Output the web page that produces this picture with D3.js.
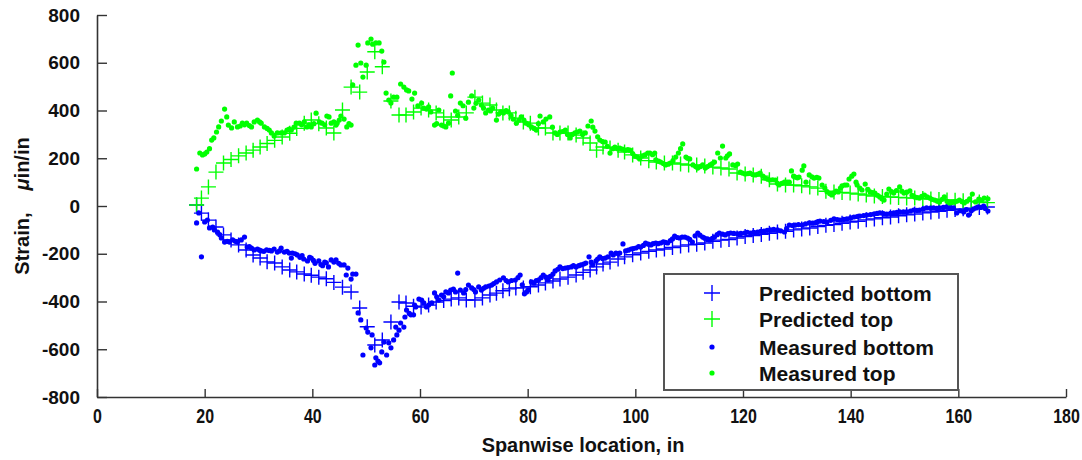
<!DOCTYPE html>
<html><head><meta charset="utf-8">
<script src="https://cdn.jsdelivr.net/npm/d3@7"></script>
<style>
html,body{margin:0;padding:0;background:#fff;}
svg{display:block;}
</style></head>
<body>
<svg id="chart" width="1082" height="460"></svg>
<script>
const xTicks = [0, 20, 40, 60, 80, 100, 120, 140, 160, 180];
const yTicks = [-800, -600, -400, -200, 0, 200, 400, 600, 800];
const seriesNames = ["Predicted bottom", "Predicted top", "Measured bottom", "Measured top"];

const predX = [
 18.5, 19.4, 20.7, 22.1, 23.5, 24.9, 26.3, 27.7, 29.0, 30.3,
 31.6, 33.0, 34.4, 35.8, 37.1, 38.5, 39.8, 41.2, 42.6, 44.0,
 45.6, 47.2, 48.8, 50.2, 51.6, 53.0, 54.6, 56.1, 57.4, 58.8,
 60.2, 61.6, 63.0, 64.4, 65.8, 67.2, 68.6, 70.2, 71.6, 73.0,
 74.2, 75.4, 76.6, 77.8, 79.2, 80.5, 82.0, 83.3, 84.7, 86.0,
 87.5, 89.0, 90.3, 91.6, 92.8, 94.0, 95.3, 96.8, 98.0, 99.5,
 101.0, 102.5, 103.9, 105.4, 106.9, 108.4, 109.9, 111.4, 112.9, 114.4,
 115.9, 117.4, 118.9, 120.4, 121.9, 123.4, 124.9, 126.4, 127.9, 129.4,
 130.9, 132.4, 133.9, 135.4, 136.9, 138.4, 139.9, 141.4, 142.9, 144.4,
 145.9, 147.4, 148.9, 150.4, 151.9, 153.4, 154.9, 156.4, 157.9, 159.4,
 160.9, 162.4, 163.9, 165.4];
const predTop = [
 4, 33, 80, 142, 180, 195, 210, 222, 234, 247,
 262, 275, 289, 305, 325, 347, 360, 345, 327, 306,
 402, 498, 477, 561, 646, 583, 440, 381, 381, 394,
 410, 402, 390, 373, 360, 373, 390, 456, 431, 423,
 402, 390, 390, 368, 352, 347, 327, 327, 306, 306,
 306, 297, 285, 264, 234, 247, 243, 234, 226, 214,
 201, 190, 184, 180, 180, 176, 172, 172, 168, 163,
 159, 155, 138, 134, 130, 125, 110, 92, 88, 88,
 85, 80, 75, 62, 59, 57, 54, 50, 46, 42,
 40, 38, 36, 34, 33, 31, 29, 27, 25, 24,
 22, 20, 17, 14];
const predBottom = [
 4, -30, -59, -88, -121, -142, -163, -184, -205, -218,
 -234, -239, -255, -268, -276, -285, -290, -298, -305, -320,
 -340, -360, -427, -506, -582, -561, -486, -402, -406, -420,
 -423, -415, -402, -396, -390, -385, -394, -394, -385, -373,
 -365, -355, -347, -343, -343, -338, -331, -322, -314, -306,
 -298, -289, -278, -268, -255, -243, -235, -222, -213, -204,
 -197, -190, -184, -180, -174, -168, -163, -160, -155, -148,
 -143, -140, -134, -128, -124, -119, -114, -109, -106, -100,
 -96, -92, -86, -81, -78, -72, -67, -64, -58, -54,
 -49, -46, -41, -37, -34, -29, -25, -22, -18, -15,
 -12, -9, -6, -4];

const measTopX = [
 18.5,19.1,19.6,20.0,20.4,20.9,21.3,21.7,22.2,22.6,
 23.1,23.7,24.1,24.4,25.0,25.5,26.1,26.6,27.0,27.4,
 27.8,28.3,28.7,29.2,29.8,30.2,30.5,31.1,31.6,32.0,
 32.4,32.9,33.5,34.2,34.8,35.3,35.7,36.1,36.6,37.0,
 37.6,38.0,38.5,39.0,39.4,39.8,40.3,40.7,41.3,41.8,
 42.3,42.7,43.1,43.5,44.0,44.4,44.6,45.0,45.3,45.9,
 46.4,46.8,47.2,47.5,48.1,48.5,49.0,49.4,50.0,50.3,
 50.9,51.2,51.8,52.4,52.9,53.3,53.7,54.2,54.6,55.1,
 55.7,56.4,57.0,57.5,57.9,58.5,59.0,59.6,60.3,60.7,
 61.2,61.6,62.0,62.7,63.1,63.5,64.0,64.4,64.8,65.3,
 65.7,66.0,66.6,67.0,67.5,68.0,68.5,69.0,69.6,70.0,
 70.4,70.9,71.4,71.8,72.2,72.7,73.1,73.5,74.2,74.6,
 75.0,75.5,76.0,76.4,76.9,77.3,77.9,78.4,78.8,79.3,
 79.7,80.2,80.7,81.2,81.6,82.0,82.3,82.9,83.4,84.1,
 84.6,85.1,85.5,86.0,86.5,87.0,87.4,87.9,88.3,88.8,
 89.2,89.7,90.2,90.7,91.2,91.8,92.1,92.5,93.0,93.4,
 93.9,94.4,94.8,95.3,95.8,96.2,96.7,97.1,97.6,98.1,
 98.6,99.0,99.5,99.9,100.4,100.8,101.3,101.8,102.3,102.7,
 103.2,103.6,103.8,104.3,104.7,105.2,105.6,106.1,106.5,107.0,
 107.5,108.0,108.4,108.8,109.4,109.7,110.1,110.7,111.2,111.6,
 112.1,112.5,113.0,113.4,113.9,114.3,114.7,115.3,115.8,116.2,
 116.8,117.1,117.5,118.1,118.6,119.0,119.5,119.9,120.4,120.9,
 121.3,121.8,122.3,122.8,123.2,123.7,124.1,124.6,125.0,125.5,
 126.0,126.4,126.7,127.2,127.7,128.2,128.6,129.0,129.4,129.7,
 130.1,130.4,131.0,131.3,131.7,132.3,132.8,133.2,133.7,134.1,
 134.7,135.2,135.6,136.1,136.5,136.9,137.3,137.7,138.1,138.4,
 138.9,139.3,139.7,140.2,140.6,141.0,141.2,141.7,142.1,142.7,
 143.2,143.6,144.1,144.5,145.0,145.4,145.8,146.2,146.7,147.1,
 147.6,148.0,148.5,149.1,149.5,149.9,150.4,151.0,151.4,151.9,
 152.4,152.8,153.2,153.7,154.2,154.7,155.1,155.6,156.1,156.5,
 157.0,157.4,157.9,158.4,158.8,159.3,159.7,160.2,160.7,161.1,
 161.6,162.1,162.6,163.2,163.8,164.3,164.8,165.5];
const measTop = [
 155,222,214,218,226,240,276,285,310,331,
 356,406,373,339,327,352,331,335,347,340,
 347,337,331,352,360,352,347,331,325,318,
 306,293,306,306,306,318,322,318,330,347,
 347,340,352,331,340,331,345,389,352,347,
 340,377,373,347,352,339,347,360,377,364,
 331,345,339,507,590,674,599,540,590,683,
 699,678,683,683,649,603,473,444,431,456,
 456,511,498,486,482,448,473,419,431,410,
 406,415,394,339,345,402,339,335,331,347,
 461,557,398,380,431,420,368,435,461,410,
 430,444,423,410,390,402,398,410,360,385,
 394,390,400,394,380,364,347,360,373,360,
 347,340,331,325,318,345,377,352,364,373,
 330,306,300,310,312,318,300,285,300,306,
 310,314,300,306,335,356,330,314,290,276,
 270,268,250,222,240,247,240,243,238,234,
 236,234,220,209,205,197,210,214,222,222,
 215,222,193,188,184,178,172,175,180,190,
 205,222,240,260,205,200,197,172,165,159,
 165,172,159,165,172,178,184,222,201,251,
 201,210,218,172,170,176,142,138,134,136,
 138,132,130,134,138,125,117,112,109,110,
 109,95,88,95,100,100,100,147,125,121,
 118,121,150,168,100,130,122,117,120,117,
 88,75,60,52,46,55,62,59,75,84,
 88,88,113,125,134,100,88,75,67,92,
 70,59,56,54,45,38,30,25,50,71,
 60,54,65,80,62,54,58,63,45,38,
 35,33,40,46,38,33,28,25,20,17,
 28,38,20,13,15,17,20,25,18,13,
 20,30,50,17,29,25,33,30];

const measBottomX = [
 18.5,18.9,19.4,20.0,20.5,20.9,21.5,21.8,22.4,22.8,
 23.1,23.7,24.2,24.6,25.2,25.7,26.1,26.8,27.4,27.9,
 28.3,28.7,29.2,29.8,30.2,30.5,31.0,31.5,32.0,32.4,
 32.9,33.5,33.9,34.2,34.8,35.3,35.7,36.1,36.3,36.8,
 37.2,37.7,38.1,38.4,39.1,39.5,39.8,40.2,40.5,41.2,
 41.6,41.9,42.3,42.6,43.0,43.5,44.0,44.4,44.9,45.3,
 45.9,46.3,46.6,47.2,47.5,48.1,48.5,49.0,49.4,50.0,
 50.3,50.9,51.1,51.6,51.8,52.2,52.5,52.9,53.3,53.8,
 54.2,54.6,55.1,55.5,55.7,56.1,56.4,57.0,57.2,57.5,
 58.0,58.3,58.8,59.0,59.2,59.8,60.3,60.7,61.2,61.6,
 62.2,62.7,63.1,63.5,64.0,64.4,64.8,65.3,65.7,66.2,
 66.6,67.0,67.5,68.1,68.5,69.0,69.6,70.0,70.3,70.9,
 71.4,71.8,72.2,72.8,73.3,73.7,74.2,74.8,75.5,76.0,
 76.4,77.0,77.7,78.2,78.6,79.0,79.4,79.8,80.1,80.7,
 81.2,81.6,82.0,82.5,82.9,83.4,83.8,84.2,84.7,85.1,
 85.6,86.0,86.5,87.0,87.5,88.1,88.5,89.0,89.5,89.9,
 90.4,90.8,91.4,91.8,92.1,92.7,93.0,93.4,93.9,94.4,
 94.9,95.5,95.9,96.4,96.8,97.1,97.7,98.2,98.7,99.2,
 99.6,100.1,100.6,101.0,101.5,101.9,102.4,102.9,103.3,103.8,
 104.2,104.7,105.2,105.6,106.0,106.5,106.9,107.3,107.8,108.2,
 108.7,109.2,109.7,110.1,110.6,111.1,111.6,112.0,112.5,112.9,
 113.4,113.8,114.3,114.7,115.2,115.6,116.2,116.7,117.2,117.7,
 118.3,119.0,119.6,120.3,120.8,121.4,122.0,122.7,123.3,123.9,
 124.5,125.1,125.7,126.4,127.0,127.7,128.1,128.6,129.2,129.7,
 130.3,131.0,131.6,132.3,132.9,133.4,133.8,134.3,135.0,135.6,
 136.3,136.9,137.5,138.0,138.7,139.3,140.0,140.6,141.2,141.7,
 142.4,143.0,143.7,144.3,144.9,145.4,146.1,146.7,147.4,148.0,
 148.6,149.1,149.8,150.4,151.1,151.7,152.3,152.8,153.5,154.1,
 154.8,155.4,156.0,156.5,157.2,157.8,158.5,159.1,159.7,160.3,
 161.0,161.5,161.9,162.4,162.8,163.3,163.7,164.2,164.7,165.0,
 165.5];
const measBottom = [
 -71,-29,-213,-67,-59,-92,-88,-100,-109,-120,
 -134,-151,-148,-151,-142,-148,-151,-142,-130,-172,
 -170,-176,-184,-180,-185,-188,-190,-184,-186,-188,
 -180,-193,-188,-176,-193,-190,-197,-218,-197,-200,
 -205,-215,-208,-222,-230,-215,-218,-228,-240,-230,
 -245,-250,-235,-238,-255,-226,-235,-226,-240,-247,
 -247,-289,-260,-306,-285,-285,-448,-477,-624,-511,
 -528,-594,-540,-666,-636,-650,-657,-611,-570,-624,
 -573,-594,-561,-507,-540,-520,-490,-507,-465,-436,
 -450,-456,-456,-415,-423,-390,-394,-406,-423,-415,
 -406,-364,-380,-394,-373,-380,-360,-364,-352,-348,
 -360,-281,-352,-364,-350,-331,-343,-350,-360,-339,
 -352,-345,-339,-335,-331,-325,-318,-310,-301,-312,
 -318,-312,-310,-300,-289,-330,-368,-360,-352,-318,
 -322,-312,-310,-300,-289,-298,-310,-295,-285,-272,
 -265,-255,-262,-260,-258,-255,-250,-255,-250,-247,
 -243,-239,-213,-235,-247,-230,-222,-213,-220,-218,
 -213,-197,-205,-197,-200,-197,-159,-188,-185,-180,
 -178,-176,-170,-172,-165,-155,-160,-163,-158,-155,
 -158,-155,-150,-152,-155,-145,-138,-126,-132,-134,
 -130,-130,-134,-140,-151,-125,-113,-122,-130,-135,
 -138,-142,-135,-130,-120,-113,-118,-121,-116,-113,
 -115,-117,-115,-113,-110,-113,-110,-109,-106,-105,
 -102,-100,-98,-100,-104,-109,-95,-80,-82,-80,
 -78,-80,-75,-71,-72,-71,-66,-63,-65,-67,
 -60,-54,-57,-59,-56,-54,-50,-46,-44,-42,
 -40,-38,-36,-34,-31,-29,-32,-34,-31,-29,
 -27,-25,-25,-25,-21,-17,-18,-17,-12,-8,
 -9,-8,-10,-8,-6,-4,-6,-8,-29,-20,
 -25,-15,-38,-20,-13,-8,-4,-6,0,-10,
 -21];

const BLUE = "#0000ff", GREEN = "#00ff00";
const svg = d3.select("#chart");
svg.append("rect").attr("width", 1082).attr("height", 460).attr("fill", "#fff");

const x = d3.scaleLinear().domain([0, 180]).range([97, 1066]);
const y = d3.scaleLinear().domain([-800, 800]).range([397, 15]);

const pts = (xs, vs) => d3.range(Math.min(xs.length, vs.length)).map(i => [xs[i], vs[i]]);

const crossPath = "M-7.5,0H7.5M0,-7.5V7.5";
function crosses(data, color) {
  svg.append("g").selectAll("path").data(data).join("path")
    .attr("transform", d => `translate(${x(d[0])},${y(d[1])})`)
    .attr("d", crossPath).attr("stroke", color).attr("stroke-width", 1.4).attr("fill", "none");
}
function dots(data, color) {
  svg.append("g").selectAll("circle").data(data).join("circle")
    .attr("cx", d => x(d[0])).attr("cy", d => y(d[1])).attr("r", 2.6).attr("fill", color);
}
crosses(pts(predX, predBottom), BLUE);
crosses(pts(predX, predTop), GREEN);
dots(pts(measBottomX, measBottom), BLUE);
dots(pts(measTopX, measTop), GREEN);

// axes
const axisColor = "#333";
const fmt = d => String(d);
const gx = svg.append("g").attr("transform", "translate(0,397)")
  .call(d3.axisBottom(x).tickValues(xTicks).tickSize(-8).tickSizeOuter(0).tickPadding(11).tickFormat(fmt));
gx.selectAll("text").attr("font-family", "'Liberation Sans',Arial,sans-serif")
  .attr("font-weight", "bold").attr("font-size", 21).attr("fill", "#111")
  .attr("transform", "scale(0.76,1)");
const gy = svg.append("g").attr("transform", "translate(97,0)")
  .call(d3.axisLeft(y).tickValues(yTicks).tickSize(-10).tickSizeOuter(0).tickPadding(17).tickFormat(fmt));
gy.selectAll("text").attr("font-family", "'Liberation Sans',Arial,sans-serif")
  .attr("font-weight", "bold").attr("font-size", 19).attr("fill", "#111");
[gx, gy].forEach(g => {
  g.select(".domain").attr("stroke", axisColor).attr("stroke-width", 1.6);
  g.selectAll(".tick line").attr("stroke", axisColor).attr("stroke-width", 1.4);
});

// axis titles
svg.append("text").attr("transform", "translate(583,452) scale(0.95,1)").attr("text-anchor", "middle")
  .attr("font-family", "'Liberation Sans',Arial,sans-serif")
  .attr("font-weight", "bold").attr("font-size", 21).attr("fill", "#111")
  .text("Spanwise location, in");

const yl = svg.append("text").attr("transform", "translate(29,206) rotate(-90)")
  .attr("text-anchor", "middle")
  .attr("font-family", "'Liberation Sans',Arial,sans-serif")
  .attr("font-weight", "bold").attr("font-size", 20).attr("fill", "#111");
yl.append("tspan").text("Strain,");
yl.append("tspan").attr("dx", "1.1em").attr("font-style", "italic").text("μ");
yl.append("tspan").text("in/in");

// legend
const lg = svg.append("g");
lg.append("rect").attr("x", 664).attr("y", 274).attr("width", 294).attr("height", 116)
  .attr("fill", "#fff").attr("stroke", "#555").attr("stroke-width", 2);
const rowsY = [293, 319, 347, 373];
const legendColors = [BLUE, GREEN, BLUE, GREEN];
seriesNames.forEach((name, i) => {
  const cy = rowsY[i];
  if (i < 2) {
    lg.append("path").attr("transform", `translate(712,${cy})`).attr("d", "M-8,0H8M0,-8V8")
      .attr("stroke", legendColors[i]).attr("stroke-width", 1.4).attr("fill", "none");
  } else {
    lg.append("circle").attr("cx", 712).attr("cy", cy).attr("r", 2.6).attr("fill", legendColors[i]);
  }
  lg.append("text").attr("x", 759).attr("y", cy).attr("dy", "0.36em")
    .attr("font-family", "'Liberation Sans',Arial,sans-serif").attr("font-weight", "bold")
    .attr("font-size", 21).attr("fill", "#111").text(name);
});
</script>
</body></html>
